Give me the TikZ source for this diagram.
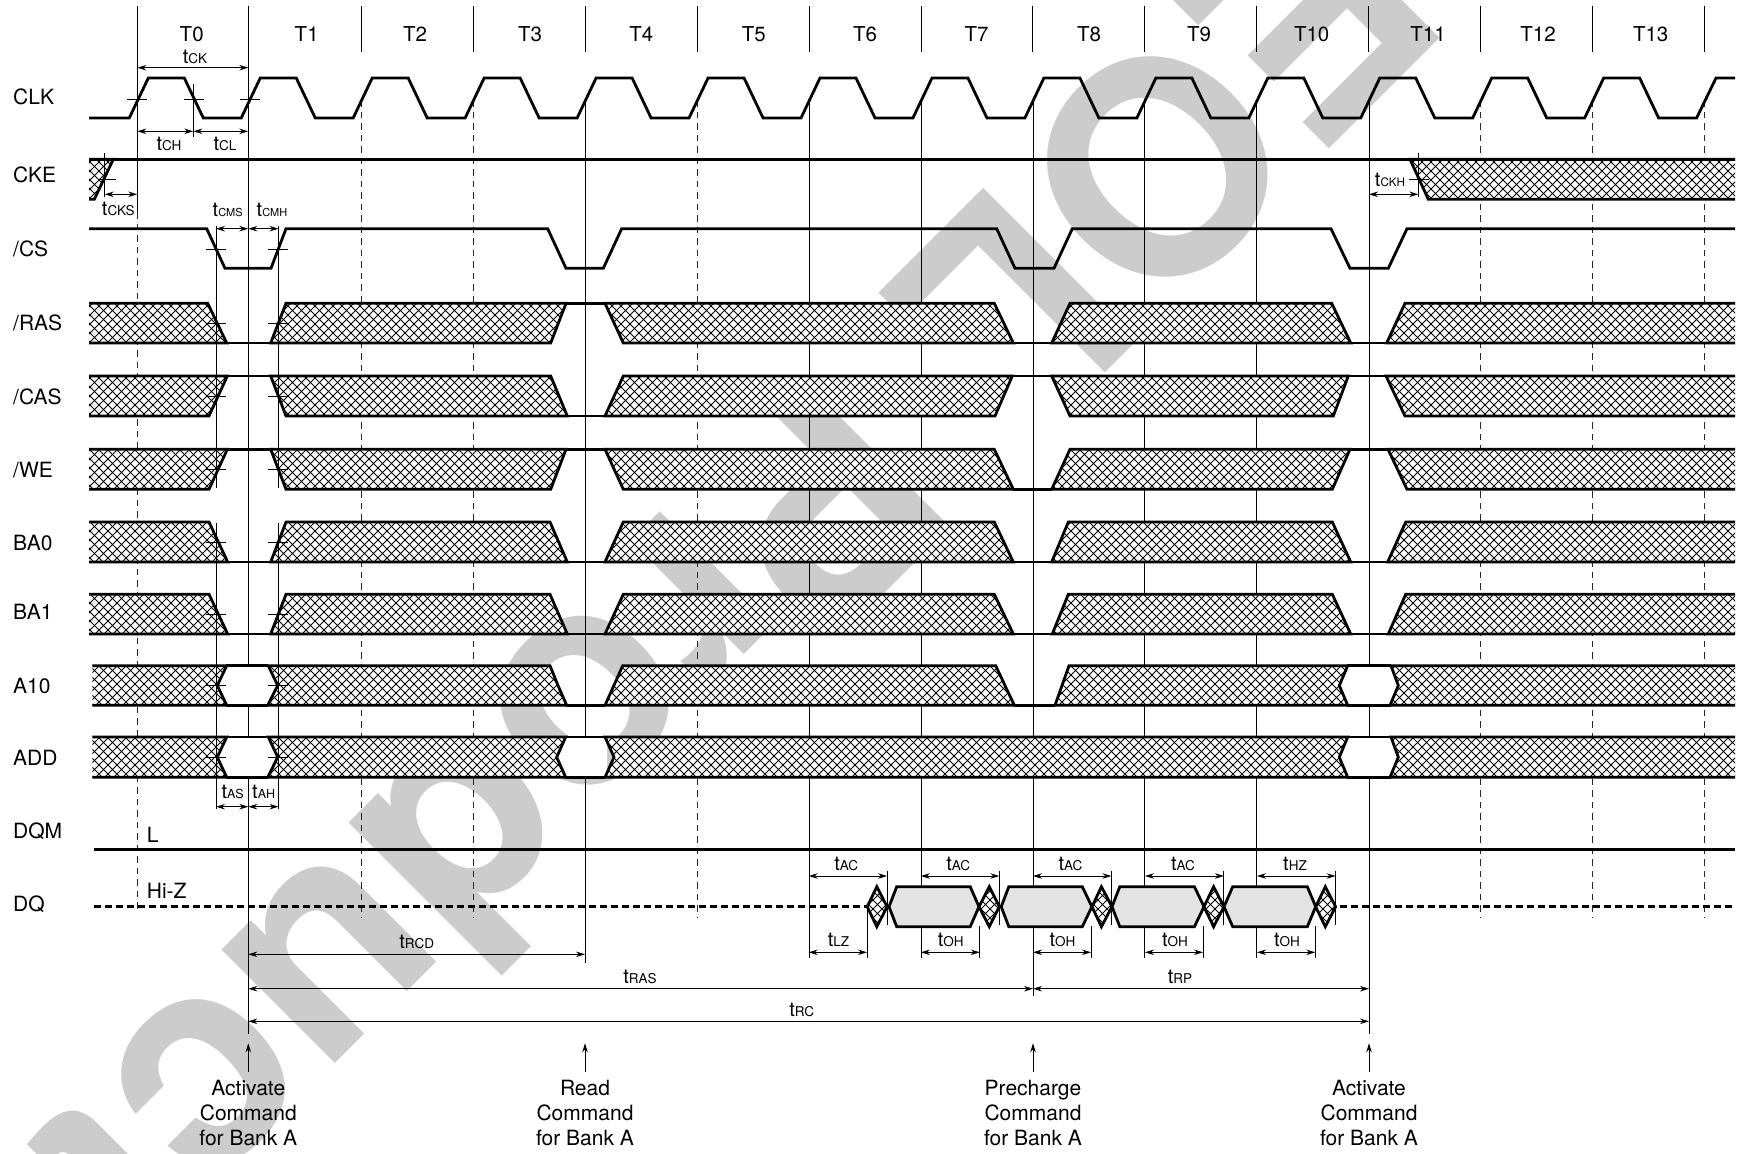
\documentclass[tikz,border=0pt]{standalone}
\usepackage{fontspec}
\setmainfont{TeX Gyre Heros}
\usetikzlibrary{arrows.meta}
\tikzset{
  sig/.style={line width=2.8pt,line join=miter,black},
  thin line/.style={line width=.9pt,black},
  grid dash/.style={line width=.9pt,black!85,dash pattern=on 6.5pt off 5pt},
  hatchline/.style={line width=.8pt,black},
  dim/.style={line width=.9pt,black,{Stealth[length=9pt,width=5.5pt]}-{Stealth[length=9pt,width=5.5pt]}},
  upar/.style={line width=.9pt,black,-{Stealth[length=9pt,width=5.5pt]}},
  tlab/.style={anchor=base,inner sep=0pt},
  sigl/.style={anchor=base west,inner sep=0pt,font=\fontsize{21}{21}\selectfont},
  cmd/.style={anchor=center,align=center,inner sep=0pt,font=\fontsize{21}{25}\selectfont},
}
\def\hs{9}
\newcommand{\tm}[1]{{\fontsize{20}{20}\selectfont t}{\fontsize{13.5}{13.5}\selectfont #1}}
\newcommand{\tms}[2]{{\fontsize{20}{20}\selectfont t}{\fontsize{#1}{#1}\selectfont #2}}
\newcommand{\rowy}[2]{\def\yt{#1}\def\yb{#2}\pgfmathsetmacro\ym{(#1+#2)/2}}
\newcommand{\hatchpoly}[3]{%
  \begin{scope}
    \fill[white] #1;
    \clip #1;
    \pgfmathtruncatemacro\hA{floor((#2-\yb)/\hs)-1}
    \pgfmathtruncatemacro\hB{ceil((#3-\yt)/\hs)+1}
    \draw[hatchline] \foreach \i in {\hA,...,\hB}{({\hs*\i+\yt},\yt)--({\hs*\i+\yb},\yb)};
    \pgfmathtruncatemacro\hC{floor((#2+\yt)/\hs)-1}
    \pgfmathtruncatemacro\hD{ceil((#3+\yb)/\hs)+1}
    \draw[hatchline] \foreach \i in {\hC,...,\hD}{({\hs*\i-\yt},\yt)--({\hs*\i-\yb},\yb)};
  \end{scope}%
  \draw[sig] #1;}
% x1top x1mid x1bot x2top x2mid x2bot
\newcommand{\blkt}[6]{%
  \pgfmathsetmacro\xlo{min(#1,#2,#3)}%
  \pgfmathsetmacro\xhi{max(#4,#5,#6)}%
  \hatchpoly{(#3,\yb)--(#2,\ym)--(#1,\yt)--(#4,\yt)--(#5,\ym)--(#6,\yb)--cycle}{\xlo}{\xhi}}
% x1top x1bot x2top x2bot
\newcommand{\blk}[4]{%
  \pgfmathsetmacro\mL{(#1+#2)/2}%
  \pgfmathsetmacro\mR{(#3+#4)/2}%
  \blkt{#1}{\mL}{#2}{#3}{\mR}{#4}}
\newcommand{\seg}[3]{\draw[sig] (#1,#3)--(#2,#3);}
\newcommand{\hexw}[3]{\fill[white] (#1,\yt)--(#2,\ym)--(#1,\yb)--(#3,\yb)--(#3,\yt)--cycle;}
\newcommand{\diam}[3]{\hatchpoly{(#1,\ym)--(#2,\yt)--(#3,\ym)--(#2,\yb)--cycle}{#1}{#3}}
\newcommand{\dbox}[4]{\draw[sig,fill=black!11] (#1,\ym)--(#2,\yt)--(#3,\yt)--(#4,\ym)--(#3,\yb)--(#2,\yb)--cycle;}
\begin{document}
\begin{tikzpicture}[x=1pt,y=-1pt]
\useasboundingbox (0,0) rectangle (1746,1154);
\fill[white] (0,0) rectangle (1746,1154);
% watermark
\begin{scope}
  \clip (0,0) rectangle (1746,1154);
  \node[anchor=base west,inner sep=0pt,rotate=225,text=black!20,font=\fontsize{297}{297}\selectfont\bfseries] (wm) at (1304,-132) {EOL Product};
\end{scope}
% grid
\foreach \k in {2,...,14}{\draw[thin line] ({137.3+111.95*\k},6)--({137.3+111.95*\k},52);}
\draw[thin line] (137.3,6)--(137.3,212);
\draw[grid dash] (137.3,212)--(137.3,913);
\draw[thin line] (248.3,6)--(248.3,1034);
\foreach \k in {2,3,5,12,13,14}{\draw[grid dash] ({137.3+111.95*\k},100)--({137.3+111.95*\k},917);}
\draw[thin line] (585,100)--(585,963);
\foreach \k in {6,7,9,10}{\draw[thin line] ({137.3+111.95*\k},100)--({137.3+111.95*\k},958);}
\draw[thin line] (1033,100)--(1033,996);
\draw[thin line] (1369,100)--(1369,1034);
% CLK
\draw[sig] (89,118) \foreach \k in {0,...,13}{
   -- ({137.3+111.95*\k-8},118) -- ({137.3+111.95*\k+11},78) -- ({137.3+111.95*\k+47},78) -- ({137.3+111.95*\k+66},118)}
   -- (1696.6,118) -- (1716,78) -- (1735,78);
% bands clipped at 89
\begin{scope}
\clip (89,0) rectangle (1735,1154);
\rowy{159.3}{199.3}
\blk{70}{70}{113.3}{94.3}
\blk{1410}{1428.3}{1800}{1800}
\seg{89}{1735}{159.3}
\rowy{303.3}{343}
\blk{70}{70}{207.7}{226.7}
\blk{286}{270.7}{566}{550.7}
\blk{605}{623.3}{994.3}{1013.3}
\blk{1070}{1051.7}{1331.7}{1350.7}
\blk{1405}{1386.7}{1800}{1800}
\seg{226}{271}{\yb}\seg{566}{605}{\yt}\seg{1013}{1052}{\yb}\seg{1350}{1387}{\yb}
\rowy{376}{416}
\blk{70}{70}{227.3}{209}
\blk{270.7}{286}{550.7}{567.3}
\blk{623.3}{605}{1012.3}{995}
\blk{1051.7}{1070}{1348.3}{1333.3}
\blk{1386}{1405}{1800}{1800}
\seg{227}{271}{\yt}\seg{567}{605}{\yb}\seg{1012}{1052}{\yt}\seg{1348}{1386}{\yt}
\rowy{449.3}{489.3}
\blk{70}{70}{227.3}{209}
\blk{270.7}{286}{566}{550.7}
\blk{605}{623.3}{994.3}{1013.3}
\blk{1070}{1051.7}{1350}{1332.3}
\blk{1388}{1407}{1800}{1800}
\seg{227}{271}{\yt}\seg{566}{605}{\yt}\seg{1013}{1052}{\yb}\seg{1350}{1388}{\yt}
\rowy{522}{562}
\blk{70}{70}{209}{227.7}
\blk{286}{270.7}{550}{567.3}
\blk{623.3}{605}{994.3}{1013.3}
\blk{1068.3}{1051.7}{1332.3}{1350.7}
\blk{1405.7}{1387.7}{1800}{1800}
\seg{227}{271}{\yb}\seg{567}{605}{\yb}\seg{1013}{1052}{\yb}\seg{1350}{1388}{\yb}
\rowy{594.3}{634}
\blk{70}{70}{209}{227.7}
\blk{286}{270.7}{550}{567.3}
\blk{623.3}{605}{994.3}{1013.3}
\blk{1068.3}{1052.3}{1332.3}{1350.7}
\blk{1405.7}{1388.3}{1800}{1800}
\seg{227}{271}{\yb}\seg{567}{605}{\yb}\seg{1013}{1052}{\yb}\seg{1350}{1388}{\yb}
\end{scope}
% bands clipped at 92.3
\begin{scope}
\clip (92.3,0) rectangle (1735,1154);
\rowy{665.7}{705.3}
\hexw{226.7}{217.3}{270}\hexw{1347.7}{1339.3}{1394}
\blkt{70}{70}{70}{226.7}{217.3}{226.7}
\blkt{268.3}{277.7}{267.7}{550}{558}{566.7}
\blk{622.7}{605}{995.7}{1014.3}
\blkt{1069}{1062}{1055}{1347.7}{1339.3}{1347.7}
\blkt{1391}{1398.3}{1390}{1800}{1800}{1800}
\seg{226}{268}{\yt}\seg{226}{268}{\yb}\seg{566}{605}{\yb}\seg{1014}{1055}{\yb}\seg{1347}{1391}{\yt}\seg{1347}{1391}{\yb}
\rowy{737}{777.3}
\hexw{226.7}{217.3}{270}\hexw{565.7}{556.7}{607}\hexw{1347.7}{1339.3}{1394}
\blkt{70}{70}{70}{226.7}{217.3}{226.7}
\blkt{268.3}{277.7}{267.7}{565.7}{556.7}{565.7}
\blkt{605}{614}{605}{1347.7}{1339.3}{1347.7}
\blkt{1391}{1398.3}{1390}{1800}{1800}{1800}
\seg{226}{268}{\yt}\seg{226}{268}{\yb}\seg{565}{605}{\yt}\seg{565}{605}{\yb}\seg{1347}{1391}{\yt}\seg{1347}{1391}{\yb}
\end{scope}
% /CS
\draw[sig] (89,228.7)--(206.7,228.7)--(225,268.3)--(271,268.3)--(286,228.7)
  --(547.7,228.7)--(566,268.3)--(603.3,268.3)--(621.7,228.7)
  --(996.7,228.7)--(1015,268.3)--(1054,268.3)--(1072.3,228.7)
  --(1331,228.7)--(1350,268.3)--(1388.3,268.3)--(1407,228.7)--(1735,228.7);
% DQM, DQ
\draw[sig] (94,849.7)--(1735,849.7);
\draw[sig,line width=3pt,dash pattern=on 7pt off 4pt] (94,906)--(867,906);
\draw[sig,line width=3pt,dash pattern=on 7pt off 4pt] (1340,906)--(1735,906);
\rowy{886.7}{926.7}
\diam{867.2}{876.8}{887.1}
\dbox{889}{896.7}{970.2}{979}
\diam{979}{989.3}{999.3}
\dbox{1001.2}{1008.8}{1082.3}{1091.9}
\diam{1092}{1101.4}{1112}
\dbox{1112}{1119.8}{1194.4}{1204}
\diam{1204}{1213.6}{1223.9}
\dbox{1224}{1232.7}{1307.3}{1315.7}
\diam{1315.7}{1325.3}{1335.6}
% setup / hold verticals and marks
\draw[thin line] (216,226)--(216,488) (216,523)--(216,809);
\draw[thin line] (278.5,226)--(278.5,488) (278.5,523)--(278.5,809);
\draw[thin line] (126.7,99.7)--(146.7,99.7) (184,99.7)--(204,99.7) (240,99.7)--(260,99.7);
\draw[thin line] (193.3,84.3)--(193.3,137.3);
\draw[thin line] (104.7,153)--(104.7,197) (98,179.7)--(116,179.7);
\draw[thin line] (1418.3,152.7)--(1418.3,197.3) (1409.3,179.7)--(1429.3,179.7);
\foreach \my in {249.3,323,396,469.3,542,614,685.5,757.2}{
  \draw[thin line] (206,\my)--(226,\my) (268.3,\my)--(288.3,\my);}
% DQ verticals
\foreach \vx in {887,999.3,1111.4,1223.9,1335.6}{\draw[thin line] (\vx,870.7)--(\vx,925);}
\draw[thin line] (867,906)--(867,958);
\foreach \vx in {979.8,1091,1203,1315.3}{\draw[thin line] (\vx,926)--(\vx,958);}
% dimension arrows
\draw[dim] (137.3,67.7)--(248.3,67.7);
\draw[dim] (137.3,131.3)--(193.3,131.3);
\draw[dim] (193.3,131.3)--(248.3,131.3);
\draw[dim] (104.7,194.3)--(137.3,194.3);
\draw[dim] (216,228.7)--(248.3,228.7);
\draw[dim] (248.3,228.7)--(278.5,228.7);
\draw[dim] (1369,194.3)--(1418.3,194.3);
\draw[dim] (216,806.7)--(248.3,806.7);
\draw[dim] (248.3,806.7)--(278.5,806.7);
\draw[dim] (808.7,876)--(887,876);
\draw[dim] (920.9,876)--(999.3,876);
\draw[dim] (1033,876)--(1111.4,876);
\draw[dim] (1145,876)--(1223.9,876);
\draw[dim] (1257,876)--(1335.6,876);
\draw[dim] (808.7,952.3)--(867,952.3);
\draw[dim] (920.9,952.3)--(979.8,952.3);
\draw[dim] (1033,952.3)--(1091,952.3);
\draw[dim] (1145,952.3)--(1203,952.3);
\draw[dim] (1257,952.3)--(1315.3,952.3);
\draw[dim] (248.3,954.3)--(585,954.3);
\draw[dim] (248.3,988.7)--(1033,988.7);
\draw[dim] (1033,988.7)--(1369,988.7);
\draw[dim] (248.3,1021.3)--(1369,1021.3);
% command arrows
\foreach \vx in {248.3,585,1033,1369}{\draw[upar] (\vx,1071.7)--(\vx,1043.3);}
% period labels
\foreach \lx/\ln in {191.7/T0,306.7/T1,415/T2,530/T3,641.4/T4,753.8/T5,865/T6,976.5/T7,1089/T8,1199/T9,1311.7/T10,1428/T11,1538/T12,1650.7/T13}{
  \node[anchor=base,inner sep=0pt,font=\fontsize{20.5}{20.5}\selectfont] (p\ln) at (\lx,41.7) {\ln};}
% signal labels
\node[sigl] (lclk) at (13,104.5) {CLK};
\node[sigl] (lcke) at (13,182.5) {CKE};
\node[sigl] (lcs) at (13,256) {/CS};
\node[sigl] (lras) at (13,330) {/RAS};
\node[sigl] (lcas) at (13,404.7) {/CAS};
\node[sigl] (lwe) at (13,477.3) {/WE};
\node[sigl] (lba0) at (13,550.7) {BA0};
\node[sigl] (lba1) at (13,619) {BA1};
\node[sigl] (la10) at (13,693.3) {A10};
\node[sigl] (ladd) at (13,765.5) {ADD};
\node[sigl] (ldqm) at (13,838.5) {DQM};
\node[sigl] (ldq) at (13,911) {DQ};
\node[sigl] (ll) at (146.7,842.7) {L};
\node[sigl] (lhiz) at (146.7,898.3) {Hi-Z};
% timing labels
\node[tlab] (tck) at (195,63.3) {\tm{CK}};
\node[tlab] (tch) at (169,150.7) {\tm{CH}};
\node[tlab] (tcl) at (225,150.7) {\tm{CL}};
\node[tlab] (tcks) at (118.3,215) {\tm{CKS}};
\node[tlab] (tcms) at (227.7,216.7) {\tms{11}{CMS}};
\node[tlab] (tcmh) at (272,216.7) {\tms{11}{CMH}};
\node[tlab] (tckh) at (1390,186.7) {\tms{11.7}{CKH}};
\node[tlab] (tas) at (232.7,798.3) {\tms{12.5}{AS}};
\node[tlab] (tah) at (263.7,798.3) {\tms{12.5}{AH}};
\node[tlab] (tac1) at (846.2,870.7) {\tm{AC}};
\node[tlab] (tac2) at (958.3,870.7) {\tm{AC}};
\node[tlab] (tac3) at (1070.5,870.7) {\tm{AC}};
\node[tlab] (tac4) at (1183,870.7) {\tm{AC}};
\node[tlab] (thz) at (1295,870.7) {\tm{HZ}};
\node[tlab] (tlz) at (838.5,946) {\tm{LZ}};
\node[tlab] (toh1) at (950.7,946) {\tm{OH}};
\node[tlab] (toh2) at (1062.4,946) {\tm{OH}};
\node[tlab] (toh3) at (1175,946) {\tm{OH}};
\node[tlab] (toh4) at (1287,946) {\tm{OH}};
\node[tlab] (trcd) at (416.7,948.3) {\tm{RCD}};
\node[tlab] (tras) at (640,983.3) {\tm{RAS}};
\node[tlab] (trp) at (1180,983.3) {\tm{RP}};
\node[tlab] (trc) at (801.7,1016) {\tm{RC}};
% commands
\node[cmd] (c1) at (248.3,1113.3) {Activate\\Command\\for Bank A};
\node[cmd] (c2) at (585,1113.3) {Read\\Command\\for Bank A};
\node[cmd] (c3) at (1033,1113.3) {Precharge\\Command\\for Bank A};
\node[cmd] (c4) at (1369,1113.3) {Activate\\Command\\for Bank A};
\end{tikzpicture}
\end{document}
